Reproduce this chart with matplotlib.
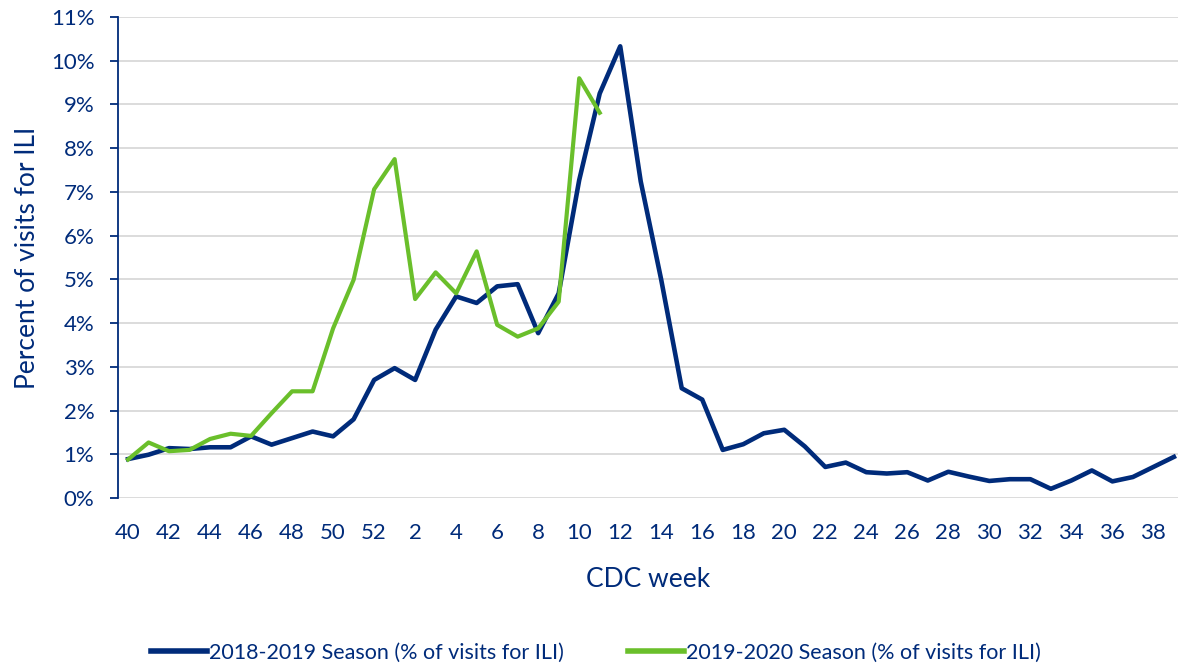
import matplotlib.pyplot as plt
from matplotlib.ticker import FuncFormatter

# CDC weeks 40..52 then 1..39
weeks = list(range(40, 53)) + list(range(1, 40))

season_2018_19 = [0.89, 0.99, 1.14, 1.12, 1.16, 1.16, 1.41, 1.22, 1.37, 1.52,
                  1.41, 1.80, 2.70, 2.97, 2.70, 3.85, 4.61, 4.46, 4.84, 4.89,
                  3.77, 4.68, 7.27, 9.25, 10.33, 7.24, 4.99, 2.51, 2.25, 1.10,
                  1.23, 1.48, 1.56, 1.18, 0.71, 0.81, 0.59, 0.56, 0.59, 0.40,
                  0.60, 0.49, 0.39, 0.43, 0.43, 0.21, 0.40, 0.63, 0.38, 0.48,
                  0.71, 0.94]

season_2019_20 = [0.88, 1.27, 1.07, 1.10, 1.35, 1.47, 1.42, 1.94, 2.44, 2.44,
                  3.88, 4.99, 7.06, 7.75, 4.55, 5.16, 4.68, 5.64, 3.96, 3.69,
                  3.88, 4.49, 9.60, 8.81]

navy = '#002B7A'
green = '#6ABF2B'

plt.rcParams['font.family'] = ['Lato', 'DejaVu Sans']

fig = plt.figure(figsize=(11.78, 6.64), dpi=100)
ax = fig.add_axes([118 / 1178, 1 - 498 / 664, 1060 / 1178, 481 / 664])

x1 = list(range(len(season_2018_19)))
x2 = list(range(len(season_2019_20)))
ax.plot(x1, season_2018_19, color=navy, lw=3.3, solid_joinstyle='round',
        label='2018-2019 Season (% of visits for ILI)', zorder=3)
ax.plot(x2, season_2019_20, color=green, lw=3.0, solid_joinstyle='round',
        label='2019-2020 Season (% of visits for ILI)', zorder=4)

ax.set_ylim(0, 11)
ax.set_yticks(range(0, 12))
ax.yaxis.set_major_formatter(FuncFormatter(lambda v, p: f'{int(v)}%'))
ax.set_xlim(-0.49, 51.2)
ax.set_xticks(x1[::2])
ax.set_xticklabels([str(w) for w in weeks[::2]])

ax.grid(axis='y', color='#D9D9D9', lw=1.3, zorder=0)
ax.set_axisbelow(True)
for s in ['top', 'right', 'bottom']:
    ax.spines[s].set_visible(False)
ax.spines['left'].set_color(navy)
ax.spines['left'].set_linewidth(1.3)

ax.tick_params(axis='y', colors=navy, labelsize=16, length=6, width=1.3, pad=11)
ax.tick_params(axis='x', colors=navy, labelsize=16, length=0, pad=18)

ax.set_xlabel('CDC week', color=navy, fontsize=19, labelpad=17)
ax.set_ylabel('Percent of visits for ILI', color=navy, fontsize=19, labelpad=8)

leg = fig.legend(loc='lower center', bbox_to_anchor=(0.506, -0.027), ncol=2,
                 frameon=False, fontsize=15.5, handlelength=2.6,
                 handletextpad=0.1, columnspacing=3.0)
for t in leg.get_texts():
    t.set_color(navy)
for h in leg.get_lines():
    h.set_linewidth(4)

fig.savefig('out.png', dpi=100)
